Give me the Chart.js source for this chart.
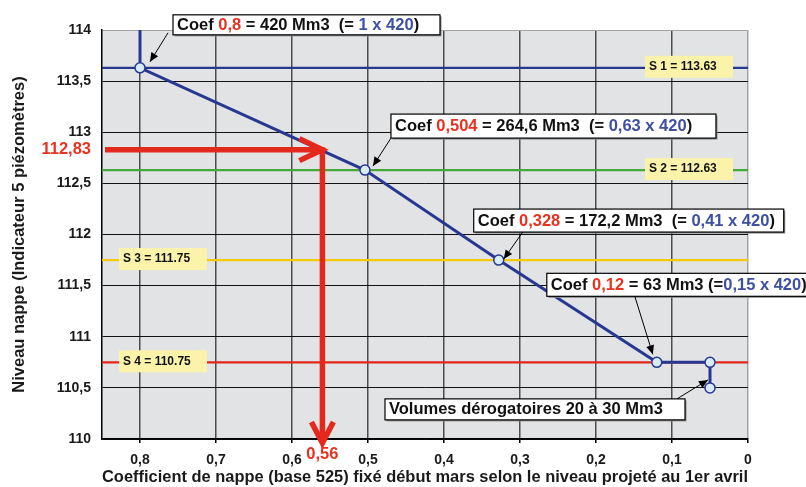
<!DOCTYPE html>
<html><head><meta charset="utf-8">
<script src="https://cdn.jsdelivr.net/npm/chart.js@4.4.1/dist/chart.umd.min.js"></script>
<style>html,body{margin:0;padding:0;background:#fff}canvas{display:block}</style>
</head><body>
<canvas id="c" width="806" height="487"></canvas>
<script>
// ---- data ----
const coefX = [0.8, 0.8, 0.504, 0.328, 0.12, 0.05, 0.05];
const levelY = [114, 113.63, 112.63, 111.75, 110.75, 110.75, 110.5];
const thresholdNames = ['S 1', 'S 2', 'S 3', 'S 4'];
const thresholdValues = [113.63, 112.63, 111.75, 110.75];
const xTicks = [0.8, 0.7, 0.6, 0.5, 0.4, 0.3, 0.2, 0.1, 0];
const xTickLabels = ['0,8', '0,7', '0,6', '0,5', '0,4', '0,3', '0,2', '0,1', '0'];
const yTicks = [110, 110.5, 111, 111.5, 112, 112.5, 113, 113.5, 114];
const yTickLabels = ['110', '110,5', '111', '111,5', '112', '112,5', '113', '113,5', '114'];
const exampleLevel = 112.83;
const exampleCoef = 0.56;
const exampleLevelLabel = '112,83';
const exampleCoefLabel = '0,56';
const noteCoefs = ['0,8', '0,504', '0,328', '0,12'];
const noteVolumes = ['420', '264,6', '172,2', '63'];
const noteRatios = ['1', '0,63', '0,41', '0,15'];
const baseVolume = '420';
const derogText = 'Volumes dérogatoires 20 à 30 Mm3';

// ---- styles ----
const F = "'Liberation Sans', Arial, sans-serif";
const NAVY = '#283891';
const RED = '#e4291c';
const TXT_RED = '#e8321f';
const TXT_BLUE = '#3d50a3';
const BLACK = '#111';
const thresholdColors = [NAVY, '#45a83a', '#f5c90c', '#e2261c'];

const K = BLACK;
const noteSegments = [
  [['Coef ', K], [noteCoefs[0], TXT_RED], [' = ' + noteVolumes[0] + ' Mm3  (= ', K], [noteRatios[0] + ' x ' + baseVolume, TXT_BLUE], [')', K]],
  [['Coef ', K], [noteCoefs[1], TXT_RED], [' = ' + noteVolumes[1] + ' Mm3  (= ', K], [noteRatios[1] + ' x ' + baseVolume, TXT_BLUE], [')', K]],
  [['Coef ', K], [noteCoefs[2], TXT_RED], [' = ' + noteVolumes[2] + ' Mm3  (= ', K], [noteRatios[2] + ' x ' + baseVolume, TXT_BLUE], [')', K]],
  [['Coef ', K], [noteCoefs[3], TXT_RED], [' = ' + noteVolumes[3] + ' Mm3 (=', K], [noteRatios[3] + ' x ' + baseVolume, TXT_BLUE], [')', K]],
  [[derogText, K]]
];
// layout of callouts: pixel offsets relative to the target point
const noteLayout = [
  {pt: 1, box: [33, -53, 267, 20], from: [28, -35], to: [10, -6]},
  {pt: 2, box: [26, -56, 325, 24], from: [26, -32], to: [8, -4]},
  {pt: 3, box: [-25, -51, 310, 23], from: [24, -28], to: [5, -1]},
  {pt: 4, box: [-110, -89, 262, 23], from: [-22, -66], to: [-4, -8]},
  {pt: 6, box: [-325, 11, 300, 21], from: [-33, 11], to: [-2, -8]}
];

function arrowHead(c, x1, y1, x2, y2, len, half) {
  const a = Math.atan2(y2 - y1, x2 - x1);
  c.beginPath();
  c.moveTo(x2, y2);
  c.lineTo(x2 - len * Math.cos(a) + half * Math.sin(a), y2 - len * Math.sin(a) - half * Math.cos(a));
  c.lineTo(x2 - len * Math.cos(a) - half * Math.sin(a), y2 - len * Math.sin(a) + half * Math.cos(a));
  c.closePath();
  c.fill();
}
function chevron(c, x, y, dirx, diry, back, side) {
  c.beginPath();
  c.moveTo(x - dirx * back - diry * side, y - diry * back - dirx * side);
  c.lineTo(x, y);
  c.lineTo(x - dirx * back + diry * side, y - diry * back + dirx * side);
  c.stroke();
}

const deco = {
  id: 'deco',
  beforeDraw(ch) {
    const a = ch.chartArea, c = ch.ctx;
    c.save();
    c.fillStyle = '#e2e3e5';
    c.fillRect(a.left, a.top, a.right - a.left, a.bottom - a.top);
    c.restore();
  },
  beforeDatasetsDraw(ch) {
    const a = ch.chartArea, c = ch.ctx, ys = ch.scales.y;
    c.save();
    thresholdValues.forEach((v, i) => {
      const y = ys.getPixelForValue(v);
      c.strokeStyle = thresholdColors[i];
      c.lineWidth = 2.2;
      c.beginPath(); c.moveTo(a.left, y); c.lineTo(a.right, y); c.stroke();
      const bx = i < 2 ? a.right - 103 : a.left + 17;
      const bw = 88, bh = 22;
      c.fillStyle = '#fbf3a9';
      c.fillRect(bx, y - bh / 2 - 1, bw, bh);
      c.fillStyle = BLACK;
      c.font = 'bold 12px ' + F;
      c.textBaseline = 'middle';
      c.textAlign = 'left';
      c.fillText(thresholdNames[i] + ' = ' + v.toFixed(2), bx + 4, y - 1);
    });
    c.restore();
  },
  afterDatasetsDraw(ch) {
    const a = ch.chartArea, c = ch.ctx, xs = ch.scales.x, ys = ch.scales.y;
    const y = ys.getPixelForValue(exampleLevel);
    const x = xs.getPixelForValue(exampleCoef);
    const x0 = a.left + 3;
    const yEnd = a.bottom + 4;
    c.save();
    c.strokeStyle = RED;
    c.lineWidth = 5.5;
    c.lineJoin = 'miter';
    c.beginPath(); c.moveTo(x0, y); c.lineTo(x - 2, y); c.stroke();
    c.beginPath(); c.moveTo(x, y - 2.5); c.lineTo(x, yEnd - 3); c.stroke();
    chevron(c, x, y, 1, 0, 23, 11);
    chevron(c, x, yEnd, 0, 1, 21, 11);
    c.fillStyle = TXT_RED;
    c.font = 'bold 16.5px ' + F;
    c.textBaseline = 'middle';
    c.textAlign = 'right';
    c.fillText(exampleLevelLabel, a.left - 11, y);
    c.textAlign = 'center';
    c.fillText(exampleCoefLabel, x, a.bottom + 15);
    c.restore();
  },
  afterDraw(ch) {
    const c = ch.ctx, xs = ch.scales.x, ys = ch.scales.y;
    c.save();
    noteLayout.forEach((L, i) => {
      const px = xs.getPixelForValue(coefX[L.pt]);
      const py = ys.getPixelForValue(levelY[L.pt]);
      const [dx, dy, w, h] = L.box;
      const bx = px + dx, by = py + dy;
      c.fillStyle = '#8a8a8a';
      c.fillRect(bx + 1.5, by + 1.5, w, h);
      c.fillStyle = '#fff';
      c.fillRect(bx, by, w, h);
      c.strokeStyle = '#000';
      c.lineWidth = 1.2;
      c.strokeRect(bx, by, w, h);
      c.font = 'bold 16.5px ' + F;
      c.textBaseline = 'middle';
      c.textAlign = 'left';
      let tx = bx + 4;
      noteSegments[i].forEach(([t, col]) => {
        c.fillStyle = col;
        c.fillText(t, tx, by + h / 2 + 0.5);
        tx += c.measureText(t).width;
      });
      const x1 = px + L.from[0], y1 = py + L.from[1], x2 = px + L.to[0], y2 = py + L.to[1];
      c.strokeStyle = '#000';
      c.lineWidth = 1;
      c.beginPath(); c.moveTo(x1, y1); c.lineTo(x2, y2); c.stroke();
      c.fillStyle = '#000';
      arrowHead(c, x1, y1, x2, y2, 9, 4);
    });
    c.restore();
  }
};

new Chart(document.getElementById('c'), {
  type: 'scatter',
  data: {
    datasets: [{
      data: coefX.map((x, i) => ({x: x, y: levelY[i]})),
      showLine: true,
      borderColor: NAVY,
      borderWidth: 3,
      tension: 0,
      pointRadius: levelY.map((_, i) => (i === 0 ? 0 : 5)),
      pointBackgroundColor: '#d9eaf8',
      pointBorderColor: NAVY,
      pointBorderWidth: 1.5
    }]
  },
  options: {
    responsive: false,
    animation: false,
    devicePixelRatio: 1,
    layout: {padding: {top: 30, right: 58, left: 0, bottom: 0}},
    plugins: {legend: {display: false}, tooltip: {enabled: false}},
    scales: {
      x: {
        type: 'linear', reverse: true, min: 0, max: 0.85,
        afterBuildTicks(s) { s.ticks = xTicks.map(v => ({value: v})); },
        afterFit(s) { s.height = 48; },
        ticks: {
          callback: v => xTickLabels[xTicks.indexOf(v)],
          autoSkip: false, maxRotation: 0, padding: 8.5, color: '#1a1a1a',
          font: {family: F, size: 14, weight: 'bold'}
        },
        grid: {
          color: c => (c.tick && c.tick.value === 0 ? '#a3a3a3' : '#4d4d4d'),
          lineWidth: 1.5, tickLength: 4, tickColor: '#000', drawTicks: true
        },
        border: {color: '#000', width: 1.5},
        title: {
          display: true,
          text: 'Coefficient de nappe (base 525) fixé début mars selon le niveau projeté au 1er avril',
          font: {family: F, size: 16.5, weight: 'bold'}, color: '#1a1a1a',
          padding: {top: 0, bottom: 0}
        }
      },
      y: {
        type: 'linear', min: 110, max: 114,
        afterBuildTicks(s) { s.ticks = yTicks.map(v => ({value: v})); },
        afterFit(s) { s.width = 102; },
        ticks: {
          callback: v => yTickLabels[yTicks.indexOf(v)],
          padding: 11, color: '#1a1a1a',
          font: {family: F, size: 14, weight: 'bold'}
        },
        grid: {
          color: c => (c.tick && c.tick.value === 114 ? '#a3a3a3' : '#111'),
          lineWidth: 1, drawTicks: false
        },
        border: {color: '#000', width: 1.5},
        title: {
          display: true,
          text: 'Niveau nappe (Indicateur 5 piézomètres)',
          font: {family: F, size: 16.5, weight: 'bold'}, color: '#1a1a1a',
          padding: {top: 9.5, bottom: 0}
        }
      }
    }
  },
  plugins: [deco]
});
</script>
</body></html>
